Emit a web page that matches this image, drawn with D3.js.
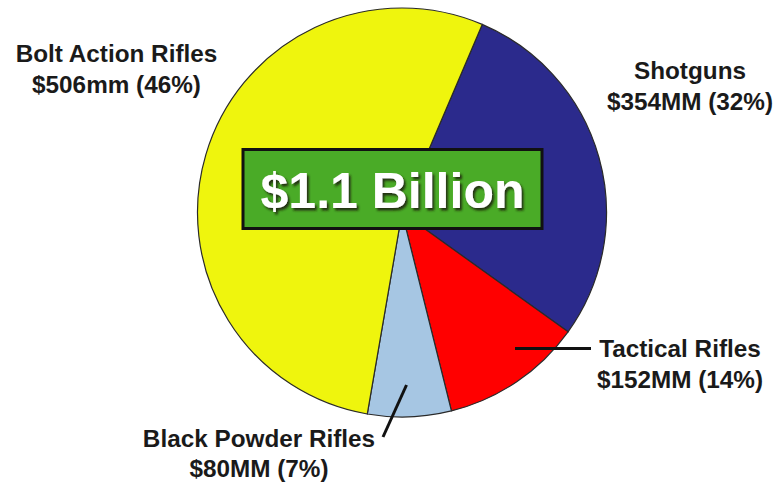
<!DOCTYPE html>
<html>
<head>
<meta charset="utf-8">
<script src="https://cdn.jsdelivr.net/npm/d3@7"></script>
<style>
  html, body { margin: 0; padding: 0; background: #fff; }
  svg { display: block; }
  text { font-family: "Liberation Sans", Arial, sans-serif; font-weight: bold; }
</style>
</head>
<body>
<svg id="chart" width="780" height="484"></svg>
<script>
// ---- data ----
const categories = ["Shotguns", "Tactical Rifles", "Black Powder Rifles", "Bolt Action Rifles"];
const valuesMM = [354, 152, 80, 506];
const valueTexts = ["$354MM", "$152MM", "$80MM", "$506mm"];
const percents = [32, 14, 7, 46];
// slice sizes as they are actually drawn in the reference (% of circle)
const drawnShares = [28.5, 11.2, 6.6, 53.7];
const colors = ["#2b2a8c", "#ff0000", "#a6c6e3", "#eff50d"];
const totalText = "$1.1 Billion";

const svg = d3.select("#chart");
const defs = svg.append("defs");
const f = defs.append("filter").attr("id", "shadow")
  .attr("x", "-10%").attr("y", "-20%").attr("width", "130%").attr("height", "150%");
f.append("feDropShadow").attr("dx", 2).attr("dy", 2.5).attr("stdDeviation", 0.8)
  .attr("flood-color", "#1a2010").attr("flood-opacity", 0.9);

const cx = 402, cy = 212.5, R = 204.5;

const pie = d3.pie().sort(null).value(d => d.share)
  .startAngle(23.1 * Math.PI / 180)
  .endAngle(23.1 * Math.PI / 180 + 2 * Math.PI);
const data = categories.map((c, i) => ({ name: c, share: drawnShares[i], color: colors[i] }));
const arc = d3.arc().innerRadius(0).outerRadius(R);

const g = svg.append("g").attr("transform", `translate(${cx},${cy})`);
g.selectAll("path").data(pie(data)).join("path")
  .attr("d", arc)
  .attr("fill", d => d.data.color)
  .attr("stroke", "#2a2a2a")
  .attr("stroke-width", 1.2)
  .attr("stroke-linejoin", "round");

// leader lines
const lines = [
  { x1: 515, y1: 348.5, x2: 591, y2: 348.5 },
  { x1: 406.5, y1: 385, x2: 383, y2: 437 }
];
svg.selectAll("line.leader").data(lines).join("line")
  .attr("class", "leader")
  .attr("x1", d => d.x1).attr("y1", d => d.y1)
  .attr("x2", d => d.x2).attr("y2", d => d.y2)
  .attr("stroke", "#111").attr("stroke-width", 3);

// labels
const labelPos = [
  { x: 690, y1: 79, y2: 110 },
  { x: 680, y1: 357, y2: 388 },
  { x: 259, y1: 446.5, y2: 476.5 },
  { x: 116.5, y1: 61.5, y2: 93 }
];
categories.forEach((c, i) => {
  const p = labelPos[i];
  const t = svg.append("text").attr("text-anchor", "middle")
    .attr("fill", "#1a1a1a").attr("font-size", 24.3);
  t.append("tspan").attr("x", p.x).attr("y", p.y1).text(c);
  t.append("tspan").attr("x", p.x).attr("y", p.y2).text(`${valueTexts[i]} (${percents[i]}%)`);
});

// center total box
const box = { x: 243, y: 149.5, w: 299, h: 79 };
svg.append("rect")
  .attr("x", box.x).attr("y", box.y).attr("width", box.w).attr("height", box.h)
  .attr("fill", "#4aab27").attr("stroke", "#111").attr("stroke-width", 3);
svg.append("text").attr("x", box.x + box.w / 2).attr("y", 208)
  .attr("text-anchor", "middle").attr("font-size", 50).attr("fill", "#ffffff")
  .attr("filter", "url(#shadow)")
  .text(totalText);
</script>
</body>
</html>
